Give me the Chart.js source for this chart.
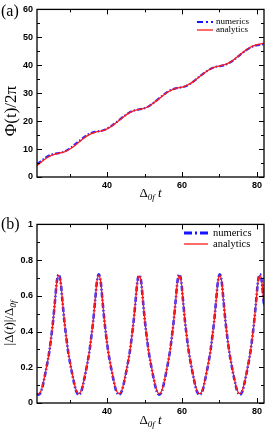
<!DOCTYPE html>
<html>
<head>
<meta charset="utf-8">
<script src="https://cdn.jsdelivr.net/npm/chart.js@4.4.1/dist/chart.umd.min.js"></script>
<style>
    html, body { margin: 0; padding: 0; background: #fff; }
    #wrap { position: relative; width: 274px; height: 436px; }
    canvas { position: absolute; left: 0; }
    #chart-a { top: 0; }
    #chart-b { top: 215px; }
</style>
</head>
<body>
<div id="wrap">
    <canvas id="chart-a" width="274" height="215"></canvas>
    <canvas id="chart-b" width="274" height="221"></canvas>
</div>
<script>
// panel (a): phase Φ(t)/2π against Δ0f t
const phase_t = [21.3, 21.75, 23.1, 24.1, 25.1, 26.1, 27.1, 28.1, 29.1, 30.1, 31.1, 32.45,
    33.8, 34.8, 35.8, 36.8, 37.8, 38.8, 39.8, 40.8, 41.8, 43.2,
    44.6, 45.6, 46.6, 47.6, 48.6, 49.6, 50.6, 51.6, 52.6, 53.95,
    55.3, 56.3, 57.3, 58.3, 59.3, 60.3, 61.3, 62.3, 63.3, 64.7,
    66.1, 67.1, 68.1, 69.1, 70.1, 71.1, 72.1, 73.1, 74.1, 75.45,
    76.8, 77.8, 78.8, 79.8, 80.8, 81.9];
const phase_numerics = [4.7, 5.0, 6.4, 7.35, 8.0, 8.35, 8.55, 8.85, 9.45, 10.3, 11.3, 12.75,
    14.15, 15.1, 15.75, 16.15, 16.4, 16.65, 17.2, 17.95, 18.9, 20.35,
    21.85, 22.8, 23.5, 23.95, 24.2, 24.45, 24.95, 25.75, 26.75, 28.2,
    29.65, 30.6, 31.3, 31.75, 32.0, 32.2, 32.7, 33.45, 34.45, 35.95,
    37.4, 38.3, 39.0, 39.45, 39.7, 39.95, 40.45, 41.2, 42.2, 43.65,
    45.05, 45.95, 46.65, 47.1, 47.35, 47.55];
const phase_analytics = [4.1, 4.57, 6.05, 7.0, 7.72, 8.2, 8.5, 8.8, 9.28, 10.0, 10.95, 12.4,
    13.85, 14.8, 15.52, 16.0, 16.3, 16.6, 17.08, 17.8, 18.75, 20.25,
    21.75, 22.7, 23.42, 23.9, 24.2, 24.5, 24.98, 25.7, 26.65, 28.1,
    29.55, 30.5, 31.22, 31.7, 32.0, 32.3, 32.78, 33.5, 34.45, 35.9,
    37.35, 38.3, 39.02, 39.5, 39.8, 40.1, 40.58, 41.3, 42.25, 43.7,
    45.15, 46.1, 46.82, 47.3, 47.6, 47.93];

// panel (b): |Δ(t)|/Δ0f against Δ0f t
const gap_t = [21.3, 21.75, 22.5, 23.1, 24.1, 24.6, 25.1, 25.6, 26.1, 26.6, 27.1, 27.6, 28.1, 28.6, 29.1, 29.6, 30.1, 31.1, 31.7, 32.45,
    33.2, 33.8, 34.8, 35.3, 35.8, 36.3, 36.8, 37.3, 37.8, 38.3, 38.8, 39.3, 39.8, 40.3, 40.8, 41.8, 42.4, 43.2,
    44.0, 44.6, 45.6, 46.1, 46.6, 47.1, 47.6, 48.1, 48.6, 49.1, 49.6, 50.1, 50.6, 51.1, 51.6, 52.6, 53.2, 53.95,
    54.7, 55.3, 56.3, 56.8, 57.3, 57.8, 58.3, 58.8, 59.3, 59.8, 60.3, 60.8, 61.3, 61.8, 62.3, 63.3, 63.9, 64.7,
    65.5, 66.1, 67.1, 67.6, 68.1, 68.6, 69.1, 69.6, 70.1, 70.6, 71.1, 71.6, 72.1, 72.6, 73.1, 74.1, 74.7, 75.45,
    76.2, 76.8, 77.8, 78.3, 78.8, 79.3, 79.8, 80.3, 80.8, 81.3, 81.8, 81.9];
const gap_numerics = [0.05, 0.047, 0.07, 0.122, 0.228, 0.29, 0.37, 0.46, 0.57, 0.68, 0.72, 0.68, 0.57, 0.46, 0.37, 0.29, 0.228, 0.122, 0.07, 0.047,
    0.07, 0.122, 0.228, 0.29, 0.37, 0.46, 0.57, 0.68, 0.72, 0.68, 0.57, 0.46, 0.37, 0.29, 0.228, 0.122, 0.07, 0.047,
    0.07, 0.122, 0.228, 0.29, 0.37, 0.46, 0.57, 0.68, 0.715, 0.68, 0.57, 0.46, 0.37, 0.29, 0.228, 0.122, 0.07, 0.047,
    0.07, 0.122, 0.228, 0.29, 0.37, 0.46, 0.57, 0.68, 0.72, 0.68, 0.57, 0.46, 0.37, 0.29, 0.228, 0.122, 0.07, 0.047,
    0.07, 0.122, 0.228, 0.29, 0.37, 0.46, 0.57, 0.68, 0.72, 0.68, 0.57, 0.46, 0.37, 0.29, 0.228, 0.122, 0.07, 0.047,
    0.07, 0.122, 0.228, 0.29, 0.37, 0.46, 0.57, 0.68, 0.72, 0.68, 0.57, 0.55];
const gap_analytics = [0.056, 0.052, 0.075, 0.125, 0.23, 0.29, 0.37, 0.46, 0.57, 0.68, 0.715, 0.68, 0.57, 0.46, 0.37, 0.29, 0.23, 0.125, 0.075, 0.052,
    0.075, 0.125, 0.23, 0.29, 0.37, 0.46, 0.57, 0.68, 0.715, 0.68, 0.57, 0.46, 0.37, 0.29, 0.23, 0.125, 0.075, 0.052,
    0.075, 0.125, 0.23, 0.29, 0.37, 0.46, 0.57, 0.68, 0.71, 0.68, 0.57, 0.46, 0.37, 0.29, 0.23, 0.125, 0.075, 0.052,
    0.075, 0.125, 0.23, 0.29, 0.37, 0.46, 0.57, 0.68, 0.715, 0.68, 0.57, 0.46, 0.37, 0.29, 0.23, 0.125, 0.075, 0.052,
    0.075, 0.125, 0.23, 0.29, 0.37, 0.46, 0.57, 0.68, 0.715, 0.68, 0.57, 0.46, 0.37, 0.29, 0.23, 0.125, 0.075, 0.052,
    0.075, 0.125, 0.23, 0.29, 0.37, 0.46, 0.57, 0.68, 0.715, 0.68, 0.57, 0.545];

const x_ticks = [30, 40, 50, 60, 70, 80];
const phase_y_ticks = [0, 5, 10, 15, 20, 25, 30, 35, 40, 45, 50, 55, 60];
const gap_y_ticks = [0, 0.1, 0.2, 0.3, 0.4, 0.5, 0.6, 0.7, 0.8, 0.9, 1];

const SERIF = '"Liberation Serif", "Times New Roman", serif';
const tick_font = { family: '"Liberation Sans", Arial, sans-serif', size: 9, weight: 'bold' };

function to_points(xs, ys) {
    return xs.map((x, i) => { return { x: x, y: ys[i] } });
}

// draws a run of text pieces (for subscripts / italics), starting at x
function draw_parts(ctx, parts, x, y, align) {
    let total = 0;
    parts.forEach((p) => { ctx.font = p.font; total += ctx.measureText(p.text).width; });
    let cur = align === "center" ? x - total / 2 : x;
    parts.forEach((p) => {
        ctx.font = p.font;
        ctx.fillText(p.text, cur, y + (p.dy || 0));
        cur += ctx.measureText(p.text).width;
    });
}

const panel_plugin = {
    id: "panel",
    afterDraw(chart, args, opts) {
        const ctx = chart.ctx;
        const area = chart.chartArea;
        const xs = chart.scales.x, ys = chart.scales.y;
        ctx.save();
        ctx.strokeStyle = "#000";
        ctx.fillStyle = "#000";

        // inward ticks on all four sides
        ctx.lineWidth = 1;
        ctx.beginPath();
        xs.ticks.forEach((t) => {
            let px = Math.round(xs.getPixelForValue(t.value)) + 0.5;
            let len = t.label !== "" ? 5 : 3;
            ctx.moveTo(px, area.bottom); ctx.lineTo(px, area.bottom - len);
            ctx.moveTo(px, area.top); ctx.lineTo(px, area.top + len);
        });
        ys.ticks.forEach((t) => {
            let py = Math.round(ys.getPixelForValue(t.value)) + 0.5;
            let len = t.label !== "" ? 5 : 3;
            ctx.moveTo(area.left, py); ctx.lineTo(area.left + len, py);
            ctx.moveTo(area.right, py); ctx.lineTo(area.right - len, py);
        });
        ctx.stroke();

        ctx.lineWidth = 1.3;
        ctx.strokeRect(area.left, area.top, area.right - area.left, area.bottom - area.top);

        // panel letter
        ctx.textBaseline = "alphabetic";
        ctx.font = "16px " + SERIF;
        ctx.fillText(opts.letter, 1, opts.letterY);

        // x axis title
        draw_parts(ctx, opts.xTitle, (area.left + area.right) / 2, opts.xTitleY, "center");

        // y axis title, rotated
        ctx.save();
        ctx.translate(opts.yTitleX, opts.yTitleY);
        ctx.rotate(-Math.PI / 2);
        draw_parts(ctx, opts.yTitle, 0, 0, "center");
        ctx.restore();

        // legend
        const lg = opts.legend;
        ctx.lineWidth = lg.numWidth;
        ctx.strokeStyle = "#1414ff";
        ctx.setLineDash(lg.dash);
        ctx.beginPath();
        ctx.moveTo(lg.x0, lg.y1); ctx.lineTo(lg.x1, lg.y1);
        ctx.stroke();
        ctx.setLineDash([]);
        ctx.lineWidth = 1.3;
        ctx.strokeStyle = "#ff1a1a";
        ctx.beginPath();
        ctx.moveTo(lg.x0, lg.y2); ctx.lineTo(lg.x1, lg.y2);
        ctx.stroke();
        ctx.font = lg.size + "px " + SERIF;
        ctx.textBaseline = "middle";
        ctx.fillText("numerics", lg.tx, lg.y1);
        ctx.fillText("analytics", lg.tx, lg.y2);
        ctx.restore();
    }
};

function build_chart(canvas_id, cfg) {
    return new Chart(document.getElementById(canvas_id), {
        type: "line",
        data: {
            datasets: [{
                label: "analytics",
                data: to_points(cfg.t, cfg.analytics),
                borderColor: "#ff1a1a",
                borderWidth: 1.3,
                order: 0
            }, {
                label: "numerics",
                data: to_points(cfg.t, cfg.numerics),
                borderColor: "#2a2aff",
                borderWidth: cfg.numWidth,
                borderDash: cfg.dash,
                order: 1
            }]
        },
        options: {
            responsive: false,
            animation: false,
            devicePixelRatio: 1,
            layout: { padding: { left: 0, right: 10, top: 6, bottom: 0 } },
            elements: {
                point: { radius: 0 },
                line: { cubicInterpolationMode: "monotone", fill: false }
            },
            plugins: {
                legend: { display: false },
                tooltip: { enabled: false },
                panel: cfg.panel
            },
            scales: {
                x: {
                    type: "linear",
                    min: 21.3,
                    max: 81.9,
                    grid: { display: false, drawTicks: false },
                    border: { display: false },
                    afterBuildTicks: (s) => { s.ticks = x_ticks.map((v) => { return { value: v } }); },
                    afterFit: (s) => { s.height = cfg.xAxisHeight; },
                    ticks: {
                        padding: 3, maxRotation: 0, autoSkip: false, color: "#000", font: tick_font,
                        callback: (v) => { return v % 20 === 0 ? String(v) : "" }
                    }
                },
                y: {
                    type: "linear",
                    min: 0,
                    max: cfg.yMax,
                    grid: { display: false, drawTicks: false },
                    border: { display: false },
                    afterBuildTicks: (s) => { s.ticks = cfg.yTicks.map((v) => { return { value: v } }); },
                    afterFit: (s) => { s.width = 37; },
                    ticks: {
                        padding: 4, autoSkip: false, color: "#000", font: tick_font,
                        callback: cfg.yLabel
                    }
                }
            }
        },
        plugins: [panel_plugin]
    });
}

window.addEventListener("load", () => {
    build_chart("chart-a", {
        t: phase_t,
        numerics: phase_numerics,
        analytics: phase_analytics,
        numWidth: 2.2,
        dash: [5, 2, 1.5, 2],
        yMax: 60,
        yTicks: phase_y_ticks,
        yLabel: (v) => { return v % 10 === 0 ? String(v) : "" },
        xAxisHeight: 38,
        panel: {
            letter: "(a)",
            letterY: 16,
            xTitleY: 197,
            xTitle: [
                { text: "Δ", font: "13px " + SERIF },
                { text: "0f", font: "italic 9px " + SERIF, dy: 3 },
                { text: " t", font: "italic 13px " + SERIF }
            ],
            yTitleX: 16,
            yTitleY: 111,
            yTitle: [{ text: "Φ(t)/2π", font: "17px " + SERIF }],
            legend: { x0: 197, x1: 213, tx: 216, y1: 22, y2: 30, size: 9, numWidth: 2.2, dash: [6, 3, 2, 3] }
        }
    });

    build_chart("chart-b", {
        t: gap_t,
        numerics: gap_numerics,
        analytics: gap_analytics,
        numWidth: 2.6,
        dash: [5, 2, 1.5, 2],
        yMax: 1,
        yTicks: gap_y_ticks,
        yLabel: (v) => {
            let k = Math.round(v * 10);
            return k % 2 === 0 ? String(k / 10) : "";
        },
        xAxisHeight: 33,
        panel: {
            letter: "(b)",
            letterY: 14,
            xTitleY: 209,
            xTitle: [
                { text: "Δ", font: "13px " + SERIF },
                { text: "0f", font: "italic 9px " + SERIF, dy: 3 },
                { text: " t", font: "italic 13px " + SERIF }
            ],
            yTitleX: 13,
            yTitleY: 108,
            yTitle: [
                { text: "|Δ(", font: "13px " + SERIF },
                { text: "t", font: "italic 13px " + SERIF },
                { text: ")|/Δ", font: "13px " + SERIF },
                { text: "0f", font: "italic 9px " + SERIF, dy: 3 }
            ],
            legend: { x0: 184, x1: 208, tx: 213, y1: 18, y2: 29, size: 10.5, numWidth: 2.8, dash: [8, 3, 2, 3] }
        }
    });
});
</script>
</body>
</html>
